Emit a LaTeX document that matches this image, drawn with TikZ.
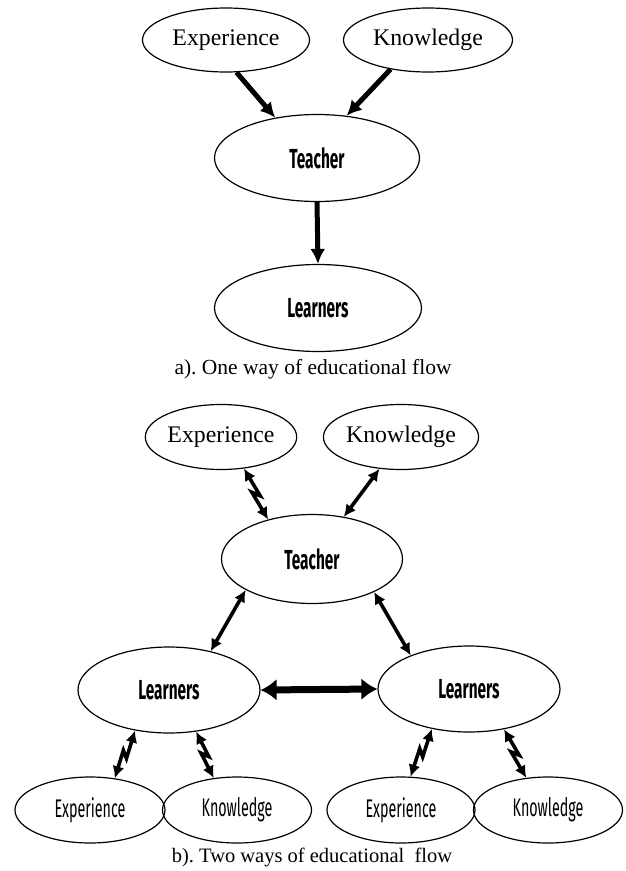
\documentclass[tikz,border=0pt]{standalone}
\usepackage{fontspec}
\setmainfont{Liberation Serif}
\newfontfamily\condfont[FakeStretch=0.56]{Fira Sans}
\frenchspacing
\usepackage{tikz}
\usetikzlibrary{positioning,calc,shapes.geometric,arrows.meta}
\tikzset{
  oval/.style={ellipse,draw,line width=1.2pt,inner sep=0pt},
  serifoval/.style={oval,font=\fontsize{23.8}{28}\selectfont},
  boldoval/.style={oval,font=\fontsize{27.5}{30}\selectfont\condfont\bfseries},
  thinoval/.style={oval,font=\fontsize{25.5}{28}\selectfont\condfont},
  onearr/.style={line width=5pt,-{Latex[length=15pt,width=15pt]}},
  twoarr/.style={line width=3.6pt,{Latex[length=12pt,width=12pt]}-{Latex[length=12pt,width=12pt]}},
  widearr/.style={line width=7pt,{Latex[length=16pt,width=22pt]}-{Latex[length=16pt,width=22pt]}},
  zap/.style={to path={-- ($(\tikztostart)!.56!(\tikztotarget)!3pt!90:(\tikztotarget)$)
      -- ($(\tikztostart)!.44!(\tikztotarget)!3pt!-90:(\tikztotarget)$) -- (\tikztotarget)}}
}
\begin{document}
\begin{tikzpicture}[x=1pt,y=-1pt]
  \useasboundingbox (0,0) rectangle (625,871);
  % a) one way
  \node[serifoval,minimum width=167pt,minimum height=64pt] (expA) at (226,40) {Experience};
  \node[serifoval,minimum width=169pt,minimum height=64pt] (knowA) at (428,40) {Knowledge};
  \node[boldoval,minimum width=205pt,minimum height=87pt] (teachA) at (317,158) {Teacher};
  \node[boldoval,minimum width=207pt,minimum height=87pt] (learnA) at (318,308) {Learners};
  \node[font=\fontsize{21.5}{25}\selectfont] (capA) at (313,369) {a). One way of educational flow};
  \draw[onearr] (expA.-72.6) -- (teachA.136.3);
  \draw[onearr] (knowA.-142.7) -- (teachA.55);
  \draw[onearr] (teachA.south) -- (learnA.north);
  % b) two ways
  \node[serifoval,minimum width=148pt,minimum height=65pt] (expB) at (221,437) {Experience};
  \node[serifoval,minimum width=148pt,minimum height=65pt] (knowB) at (401,437) {Knowledge};
  \node[boldoval,minimum width=181pt,minimum height=89pt] (teachB) at (312,559) {Teacher};
  \node[boldoval,minimum width=182pt,minimum height=86pt] (learnL) at (169,690) {Learners};
  \node[boldoval,minimum width=182pt,minimum height=86pt] (learnR) at (469,689) {Learners};
  \node[thinoval,minimum width=150pt,minimum height=66pt] (expL) at (90,810) {Experience};
  \node[thinoval,minimum width=149pt,minimum height=66pt] (knowL) at (237,810) {Knowledge};
  \node[thinoval,minimum width=148pt,minimum height=66pt] (expR) at (401,810) {Experience};
  \node[thinoval,minimum width=149pt,minimum height=66pt] (knowR) at (548,810) {Knowledge};
  \node[font=\fontsize{20.5}{24}\selectfont] (capB) at (312,857) {b). Two ways of educational~~flow};
  \draw[twoarr] (expB.-54.6) to[zap] (teachB.138.7);
  \draw[twoarr] (knowB.-124.4) -- (teachB.53);
  \draw[twoarr] (teachB.205.2) -- (learnL.43.7);
  \draw[twoarr] (teachB.-28.6) -- (learnR.150.9);
  \draw[widearr] (learnL.east) -- (learnR.west);
  \draw[twoarr] (learnL.-130.9) to[zap] (expL.52.9);
  \draw[twoarr] (learnL.-57.2) to[zap] (knowL.126);
  \draw[twoarr] (learnR.-133.7) to[zap] (expR.74.7);
  \draw[twoarr] (learnR.-49.7) to[zap] (knowR.124.9);
\end{tikzpicture}
\end{document}
